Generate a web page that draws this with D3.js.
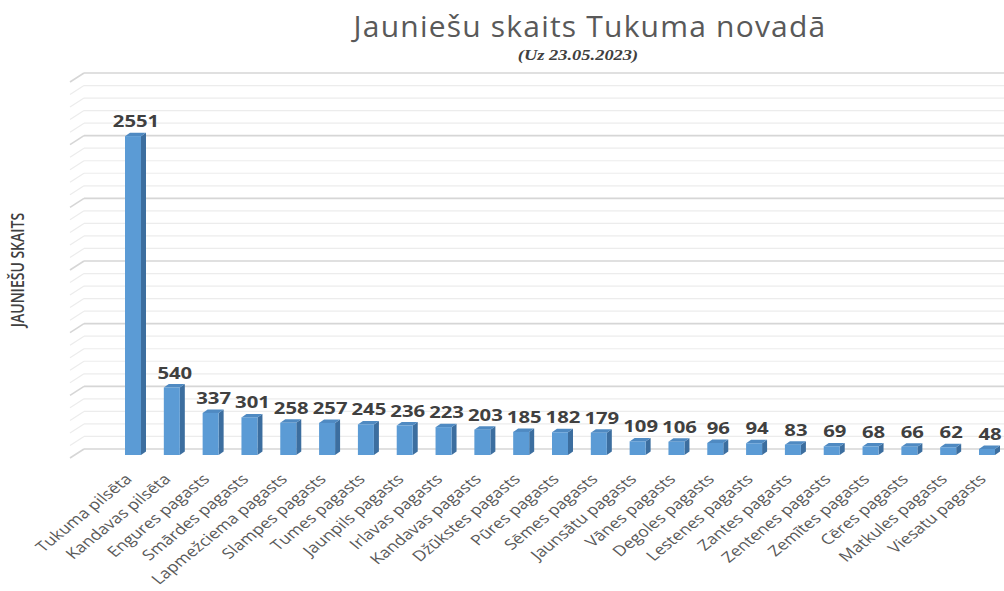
<!DOCTYPE html>
<html>
<head>
<meta charset="utf-8">
<script src="https://cdn.jsdelivr.net/npm/d3@7"></script>
<style>
  body { margin: 0; background: #fff; }
  text { font-family: "Open Sans", sans-serif; }
</style>
</head>
<body>
<script>
const width = 1004;
const height = 591;

// data
const places = ["Tukuma pilsēta", "Kandavas pilsēta", "Engures pagasts", "Smārdes pagasts",
  "Lapmežciema pagasts", "Slampes pagasts", "Tumes pagasts", "Jaunpils pagasts",
  "Irlavas pagasts", "Kandavas pagasts", "Džūkstes pagasts", "Pūres pagasts",
  "Sēmes pagasts", "Jaunsātu pagasts", "Vānes pagasts", "Degoles pagasts",
  "Lestenes pagasts", "Zantes pagasts", "Zentenes pagasts", "Zemītes pagasts",
  "Cēres pagasts", "Matkules pagasts", "Viesatu pagasts"];
const youth = [2551, 540, 337, 301, 258, 257, 245, 236, 223, 203, 185, 182, 179,
  109, 106, 96, 94, 83, 69, 68, 66, 62, 48];
const gridTicks = d3.range(0, 3001, 100);

const title = "Jauniešu skaits Tukuma novadā";
const subtitle = "(Uz 23.05.2023)";
const yTitle = "JAUNIEŠU SKAITS";

const data = places.map((p, i) => ({name: p, value: youth[i]}));

const svg = d3.select('body')
  .append('svg')
  .attr('width', width)
  .attr('height', height);

// back wall scale and front (bar) scale
const yWall = d3.scaleLinear().domain([0, 3000]).range([449, 73]);
const yBar = d3.scaleLinear().domain([0, 3000]).range([455, 80]);
const x = d3.scalePoint().domain(places).range([133, 987]);

const wallLeft = 84, wallRight = 1004;
const sideDx = 14, sideDy = 9;     // left side wall slant
const depthDx = 5, depthDy = 3.5;  // bar depth
const barW = 16;
const stretch = 1.23;              // picture is stretched horizontally

// gridlines on back wall + side wall
const grid = svg.append("g").attr("class", "grid");
grid.selectAll("line.back")
  .data(gridTicks)
  .enter().append("line")
  .attr("class", "back")
  .attr("x1", wallLeft).attr("x2", wallRight)
  .attr("y1", d => yWall(d)).attr("y2", d => yWall(d))
  .attr("stroke", d => d % 500 === 0 ? "#d6d6d6" : "#ececec")
  .attr("stroke-width", d => d % 500 === 0 ? 1.6 : 1.2);

grid.selectAll("line.side")
  .data(gridTicks)
  .enter().append("line")
  .attr("class", "side")
  .attr("x1", wallLeft - sideDx).attr("x2", wallLeft)
  .attr("y1", d => yWall(d) + sideDy).attr("y2", d => yWall(d))
  .attr("stroke", d => d % 500 === 0 ? "#d6d6d6" : "#ececec")
  .attr("stroke-width", d => d % 500 === 0 ? 1.6 : 1.2);

// bars
const bars = svg.append("g").attr("class", "bars")
  .selectAll("g")
  .data(data)
  .enter().append("g");

bars.append("path")  // side
  .attr("fill", "#3c6e9f")
  .attr("d", d => {
    const x0 = x(d.name) + barW / 2, t = yBar(d.value), b = yBar(0);
    return `M${x0},${t}L${x0 + depthDx},${t - depthDy}L${x0 + depthDx},${b - depthDy}L${x0},${b}Z`;
  });

bars.append("path")  // top
  .attr("fill", "#4f8ac2")
  .attr("d", d => {
    const x0 = x(d.name) - barW / 2, x1 = x(d.name) + barW / 2, t = yBar(d.value);
    return `M${x0},${t}L${x0 + depthDx},${t - depthDy}L${x1 + depthDx},${t - depthDy}L${x1},${t}Z`;
  });

bars.append("rect")  // front
  .attr("x", d => x(d.name) - barW / 2)
  .attr("y", d => yBar(d.value))
  .attr("width", barW)
  .attr("height", d => yBar(0) - yBar(d.value))
  .attr("fill", "#5b9bd5");

// value labels
bars.append("text")
  .attr("text-anchor", "middle")
  .attr("transform", d => `translate(${x(d.name) + 3},${yBar(d.value) - 9}) scale(${stretch},1)`)
  .style("fill", "#404040")
  .style("font-size", "16.5px")
  .style("font-weight", "bold")
  .text(d => d.value);

// category labels
svg.append("g").attr("class", "xlabels")
  .selectAll("text")
  .data(places)
  .enter().append("text")
  .attr("text-anchor", "end")
  .attr("transform", d => `translate(${x(d)},480) scale(${stretch},1) rotate(-45)`)
  .style("fill", "#595959")
  .style("font-size", "14.5px")
  .text(d => d);

// titles
svg.append("text")
  .attr("x", 590).attr("y", 37)
  .attr("text-anchor", "middle")
  .style("fill", "#595959")
  .style("font-size", "30px")
  .style("letter-spacing", "1.2px")
  .text(title);

svg.append("text")
  .attr("text-anchor", "middle")
  .attr("transform", `translate(578,60) scale(${stretch},1)`)
  .style("font-family", "'Liberation Serif', serif")
  .style("font-style", "italic")
  .style("font-weight", "bold")
  .style("font-size", "15px")
  .style("fill", "#404040")
  .text(subtitle);

svg.append("text")
  .attr("text-anchor", "middle")
  .attr("transform", `translate(24,270) scale(${stretch},1) rotate(-90)`)
  .style("fill", "#404040")
  .style("font-size", "14px")
  .style("font-weight", "600")
  .text(yTitle);
</script>
</body>
</html>
